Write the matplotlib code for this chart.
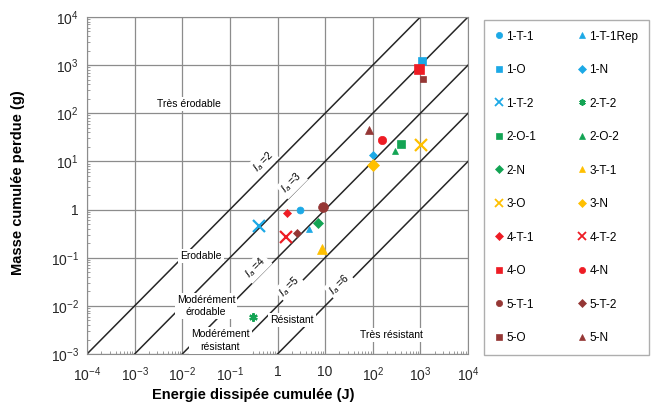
import math
import matplotlib.pyplot as plt
import matplotlib.ticker as mticker
from matplotlib.lines import Line2D

plt.rcParams['font.family'] = ['Liberation Sans', 'DejaVu Sans']

# essais : nom, energie dissipee cumulee (J), masse perdue cumulee (g)
names = ['1-T-1', '1-T-1Rep', '1-O', '1-N', '1-T-2', '2-T-2', '2-O-1', '2-O-2',
         '2-N', '3-T-1', '3-O', '3-N', '4-T-1', '4-T-2', '4-O', '4-N',
         '5-T-1', '5-T-2', '5-O', '5-N']
energy = [3.0, 4.5, 1070, 99, 0.40, 0.30, 390, 295,
          7.0, 8.8, 1020, 103, 1.6, 1.5, 944, 155,
          9.2, 2.6, 1160, 84]
mass = [0.98, 0.39, 1220, 13.4, 0.46, 0.006, 23, 16.7,
        0.52, 0.15, 22, 8.6, 0.84, 0.265, 820, 28,
        1.15, 0.32, 508, 46]

# indices d'erosion des droites limites
ia_values = [2, 3, 4, 5, 6]

blue = '#1CA9E6'
green = '#13A454'
yellow = '#FFC000'
red = '#EE1C24'
brown = '#953735'
colors = [blue, blue, blue, blue, blue, green, green, green,
          green, yellow, yellow, yellow, red, red, red, red,
          brown, brown, brown, brown]
star = (6, 2, 0)
markers = ['o', '^', 's', 'D', 'x', star, 's', '^',
           'D', '^', 'x', 'D', 'D', 'x', 's', 'o',
           'o', 'D', 's', '^']
sizes = [5, 5, 6, 4, 8, 6, 6, 5,
         5, 7, 8, 6, 4, 9, 7, 6,
         7, 4, 5, 6]

fig = plt.figure(figsize=(6.57, 4.08), dpi=100)
ax = fig.add_axes([87 / 657, 1 - 354 / 408, 381 / 657, 337 / 408])
ax.set_xscale('log')
ax.set_yscale('log')
ax.set_xlim(1e-4, 1e4)
ax.set_ylim(1e-3, 1e4)

# droites M = E * 10^(3 - Ia)
for ia in ia_values:
    k = 10.0 ** (3 - ia)
    ax.plot([1e-8, 1e8], [1e-8 * k, 1e8 * k], color='#262626', lw=1.1, zorder=2)

ax.grid(True, which='major', color='#8c8c8c', lw=0.9, zorder=1)
for s in ax.spines.values():
    s.set_color('#8c8c8c')

box = dict(facecolor='white', edgecolor='none', pad=1.5)
zone_labels = [
    (10 ** -1.85, 10 ** 2.2, 'Très érodable'),
    (10 ** -1.6, 10 ** -0.97, 'Erodable'),
    (10 ** -1.5, 10 ** -2.0, 'Modérément\nérodable'),
    (10 ** -1.2, 10 ** -2.72, 'Modérément\nrésistant'),
    (10 ** 0.3, 10 ** -2.3, 'Résistant'),
    (10 ** 2.4, 10 ** -2.6, 'Très résistant'),
]
for x, y, t in zone_labels:
    ax.text(x, y, t, fontsize=7.5, ha='center', va='center', bbox=box,
            zorder=3, linespacing=1.3)

ia_pos = [(10 ** -0.3, 10 ** 1.0), (10 ** 0.3, 10 ** 0.55),
          (10 ** -0.45, 10 ** -1.2), (10 ** 0.25, 10 ** -1.6),
          (10 ** 1.3, 10 ** -1.55)]
for (x, y), ia in zip(ia_pos, ia_values):
    ax.text(x, y, r'$I_a$ =%d' % ia, fontsize=7.5, rotation=45,
            ha='center', va='center', bbox=box, zorder=3)

handles = []
for e, m, c, mk, sz, n in zip(energy, mass, colors, markers, sizes, names):
    lw = 1.6 if mk in ('x', star) else 0
    ax.plot([e], [m], linestyle='none', marker=mk, color=c, markersize=sz,
            markeredgewidth=lw if lw else 0.5, zorder=4)
    handles.append(Line2D([], [], linestyle='none', marker=mk, color=c,
                          markersize=4.5 if mk != 'x' else 6,
                          markeredgewidth=1.3 if lw else 0.5, label=n))


def log_label(v, pos):
    p = int(round(math.log10(v)))
    if p == 0:
        return '1'
    return r'$\mathregular{10^{%d}}$' % p


ax.xaxis.set_major_formatter(mticker.FuncFormatter(
    lambda v, pos: '10' if abs(v - 10) < 1e-9 else log_label(v, pos)))
ax.yaxis.set_major_formatter(mticker.FuncFormatter(log_label))
ax.xaxis.set_major_locator(mticker.LogLocator(base=10, numticks=20))
ax.yaxis.set_major_locator(mticker.LogLocator(base=10, numticks=20))
ax.xaxis.set_minor_locator(mticker.LogLocator(base=10, subs=range(2, 10), numticks=100))
ax.yaxis.set_minor_locator(mticker.LogLocator(base=10, subs=range(2, 10), numticks=100))
ax.xaxis.set_minor_formatter(mticker.NullFormatter())
ax.yaxis.set_minor_formatter(mticker.NullFormatter())
ax.tick_params(which='major', length=0, labelsize=10, pad=6, colors='#262626')
ax.tick_params(which='minor', direction='in', length=2, color='#8c8c8c')
ax.tick_params(axis='x', which='major', pad=8)

ax.set_xlabel('Energie dissipée cumulée (J)', fontsize=10.5, fontweight='bold',
              va='center')
ax.xaxis.set_label_coords(0.437, -0.122)
ax.set_ylabel('Masse cumulée perdue (g)', fontsize=10.5, fontweight='bold',
              va='center')
ax.yaxis.set_label_coords(-0.181, 0.51)

# legende en deux colonnes remplie ligne par ligne
order = list(range(0, 20, 2)) + list(range(1, 20, 2))
leg = fig.legend([handles[i] for i in order], [names[i] for i in order],
                 ncol=2, loc='upper left', bbox_to_anchor=(484 / 657, 1 - 20 / 408),
                 fontsize=8.5, frameon=True, fancybox=False, handlelength=0.8,
                 handletextpad=0.2, columnspacing=3.5, labelspacing=1.82,
                 borderpad=0.9, borderaxespad=0)
leg.get_frame().set_edgecolor('#9a9a9a')
leg.get_frame().set_linewidth(1.0)

fig.savefig('out.png', dpi=100)
